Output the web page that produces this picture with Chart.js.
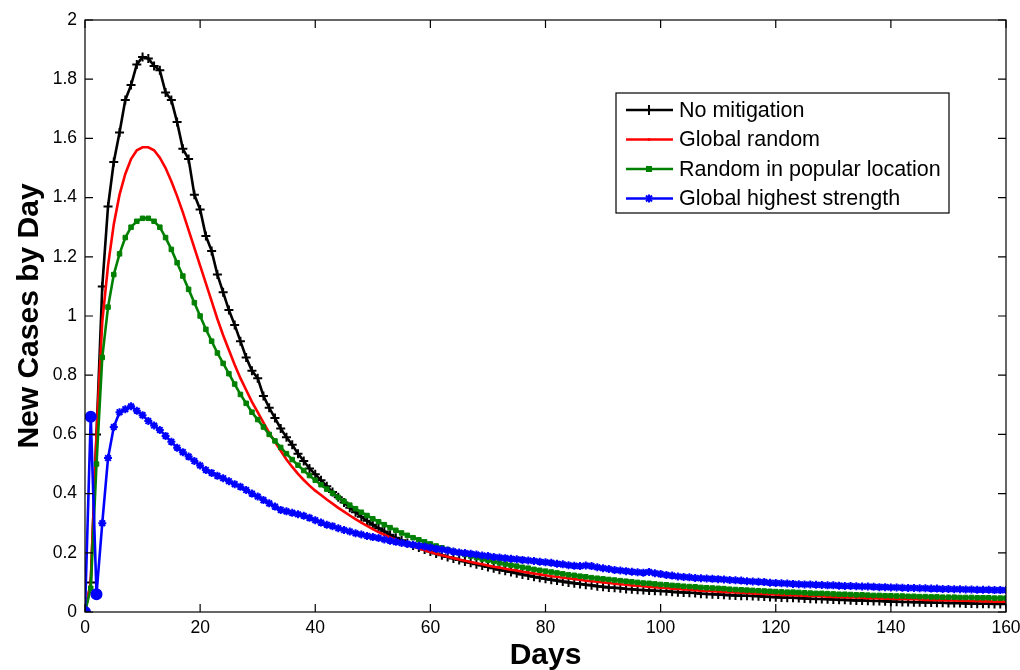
<!DOCTYPE html>
<html>
<head>
<meta charset="utf-8">
<script src="https://cdn.jsdelivr.net/npm/chart.js@4.4.1/dist/chart.umd.min.js"></script>
<style>
  html, body { margin: 0; padding: 0; background: #fff; }
  #wrap { width: 1020px; height: 670px; }
</style>
</head>
<body>
<div id="wrap"><canvas id="chart" width="1020" height="670"></canvas></div>
<script>
const days = Array.from({ length: 161 }, (_, i) => i);

const noMitigation = [
  0, 0.10, 0.60, 1.10, 1.37, 1.52, 1.62, 1.73, 1.78, 1.85,
  1.875, 1.87, 1.845, 1.83, 1.755, 1.73, 1.655, 1.565, 1.53, 1.41,
  1.36, 1.27, 1.22, 1.14, 1.08, 1.02, 0.97, 0.915, 0.86, 0.815,
  0.79, 0.73, 0.69, 0.655, 0.62, 0.59, 0.565, 0.535, 0.51, 0.485,
  0.465, 0.445, 0.425, 0.405, 0.388, 0.37, 0.352, 0.337, 0.322, 0.308,
  0.295, 0.283, 0.272, 0.261, 0.251, 0.242, 0.233, 0.225, 0.218, 0.211,
  0.204, 0.198, 0.192, 0.186, 0.181, 0.176, 0.171, 0.166, 0.161, 0.157,
  0.152, 0.148, 0.143, 0.139, 0.135, 0.131, 0.127, 0.123, 0.119, 0.116,
  0.112, 0.109, 0.106, 0.103, 0.100, 0.097, 0.095, 0.092, 0.090, 0.087,
  0.085, 0.083, 0.082, 0.080, 0.078, 0.077, 0.075, 0.074, 0.073, 0.072,
  0.071, 0.070, 0.068, 0.067, 0.066, 0.065, 0.064, 0.062, 0.061, 0.060,
  0.059, 0.058, 0.057, 0.056, 0.055, 0.055, 0.054, 0.053, 0.052, 0.051,
  0.050, 0.049, 0.048, 0.048, 0.047, 0.046, 0.045, 0.044, 0.044, 0.043,
  0.042, 0.041, 0.041, 0.040, 0.039, 0.039, 0.038, 0.037, 0.037, 0.036,
  0.035, 0.035, 0.034, 0.034, 0.033, 0.033, 0.032, 0.032, 0.031, 0.031,
  0.030, 0.030, 0.030, 0.029, 0.029, 0.028, 0.028, 0.028, 0.027, 0.027, 0.027
];

const globalRandom = [
  0, 0.10, 0.60, 0.98, 1.17, 1.31, 1.41, 1.48, 1.53, 1.56,
  1.57, 1.57, 1.56, 1.535, 1.50, 1.455, 1.405, 1.35, 1.29, 1.23,
  1.17, 1.11, 1.05, 0.99, 0.935, 0.885, 0.835, 0.79, 0.75, 0.71,
  0.675, 0.64, 0.605, 0.575, 0.545, 0.515, 0.49, 0.467, 0.446, 0.427,
  0.410, 0.395, 0.380, 0.366, 0.352, 0.339, 0.326, 0.314, 0.302, 0.291,
  0.280, 0.270, 0.261, 0.252, 0.244, 0.236, 0.229, 0.222, 0.215, 0.209,
  0.203, 0.197, 0.192, 0.187, 0.182, 0.177, 0.173, 0.169, 0.165, 0.161,
  0.157, 0.153, 0.150, 0.146, 0.143, 0.140, 0.136, 0.133, 0.130, 0.127,
  0.124, 0.121, 0.119, 0.116, 0.114, 0.111, 0.109, 0.106, 0.104, 0.102,
  0.100, 0.098, 0.096, 0.094, 0.092, 0.090, 0.089, 0.087, 0.085, 0.084,
  0.082, 0.081, 0.079, 0.078, 0.076, 0.075, 0.074, 0.072, 0.071, 0.070,
  0.069, 0.068, 0.067, 0.066, 0.065, 0.064, 0.063, 0.062, 0.061, 0.060,
  0.059, 0.058, 0.058, 0.057, 0.056, 0.055, 0.054, 0.054, 0.053, 0.052,
  0.051, 0.051, 0.050, 0.049, 0.049, 0.048, 0.047, 0.047, 0.046, 0.045,
  0.045, 0.044, 0.044, 0.043, 0.043, 0.042, 0.041, 0.041, 0.040, 0.040,
  0.039, 0.039, 0.038, 0.038, 0.037, 0.037, 0.036, 0.036, 0.035, 0.035, 0.035
];

const randomPopular = [
  0, 0.08, 0.50, 0.86, 1.03, 1.14, 1.21, 1.265, 1.30, 1.32,
  1.33, 1.33, 1.32, 1.30, 1.265, 1.225, 1.18, 1.135, 1.09, 1.045,
  1.00, 0.955, 0.915, 0.875, 0.84, 0.805, 0.77, 0.735, 0.705, 0.675,
  0.65, 0.625, 0.60, 0.578, 0.556, 0.535, 0.515, 0.496, 0.478, 0.461,
  0.445, 0.430, 0.415, 0.401, 0.387, 0.374, 0.361, 0.349, 0.337, 0.326,
  0.315, 0.305, 0.295, 0.285, 0.276, 0.267, 0.259, 0.251, 0.244, 0.237,
  0.230, 0.223, 0.217, 0.211, 0.205, 0.200, 0.194, 0.189, 0.184, 0.179,
  0.175, 0.171, 0.166, 0.162, 0.158, 0.155, 0.151, 0.148, 0.144, 0.141,
  0.138, 0.135, 0.132, 0.129, 0.126, 0.124, 0.121, 0.119, 0.116, 0.114,
  0.112, 0.110, 0.108, 0.106, 0.104, 0.102, 0.100, 0.098, 0.097, 0.095,
  0.093, 0.092, 0.090, 0.089, 0.087, 0.086, 0.085, 0.083, 0.082, 0.081,
  0.080, 0.079, 0.077, 0.076, 0.075, 0.074, 0.073, 0.072, 0.071, 0.070,
  0.069, 0.068, 0.067, 0.067, 0.066, 0.065, 0.064, 0.063, 0.063, 0.062,
  0.061, 0.060, 0.060, 0.059, 0.058, 0.058, 0.057, 0.056, 0.056, 0.055,
  0.055, 0.054, 0.054, 0.053, 0.053, 0.052, 0.052, 0.051, 0.051, 0.050,
  0.050, 0.050, 0.049, 0.049, 0.049, 0.048, 0.048, 0.048, 0.047, 0.047, 0.047
];

const highestStrength = [
  0, 0.66, 0.06, 0.30, 0.52, 0.625, 0.675, 0.685, 0.695, 0.68,
  0.665, 0.645, 0.63, 0.615, 0.595, 0.575, 0.555, 0.54, 0.525, 0.51,
  0.495, 0.48, 0.47, 0.46, 0.452, 0.442, 0.432, 0.423, 0.412, 0.40,
  0.39, 0.378, 0.367, 0.356, 0.345, 0.34, 0.335, 0.33, 0.325, 0.318,
  0.310, 0.302, 0.295, 0.290, 0.283, 0.277, 0.272, 0.266, 0.262, 0.257,
  0.253, 0.250, 0.245, 0.241, 0.237, 0.233, 0.230, 0.227, 0.224, 0.221,
  0.218, 0.214, 0.211, 0.208, 0.204, 0.201, 0.199, 0.197, 0.194, 0.191,
  0.189, 0.186, 0.184, 0.182, 0.180, 0.178, 0.176, 0.174, 0.172, 0.170,
  0.168, 0.166, 0.163, 0.161, 0.158, 0.156, 0.155, 0.157, 0.155, 0.151,
  0.148, 0.145, 0.142, 0.140, 0.138, 0.136, 0.134, 0.133, 0.135, 0.131,
  0.128, 0.125, 0.123, 0.120, 0.118, 0.117, 0.115, 0.114, 0.113, 0.112,
  0.111, 0.110, 0.108, 0.107, 0.106, 0.104, 0.103, 0.102, 0.101, 0.099,
  0.098, 0.097, 0.096, 0.095, 0.094, 0.093, 0.093, 0.092, 0.091, 0.090,
  0.090, 0.089, 0.088, 0.088, 0.087, 0.086, 0.086, 0.085, 0.084, 0.084,
  0.083, 0.083, 0.082, 0.081, 0.081, 0.080, 0.080, 0.079, 0.079, 0.078,
  0.078, 0.077, 0.077, 0.076, 0.076, 0.075, 0.075, 0.075, 0.074, 0.074, 0.074
];

const seriesNames = ["No mitigation", "Global random", "Random in popular location", "Global highest strength"];
const xTicks = [0, 20, 40, 60, 80, 100, 120, 140, 160];
const yTicks = [0, 0.2, 0.4, 0.6, 0.8, 1, 1.2, 1.4, 1.6, 1.8, 2];

const FONT = "'Liberation Sans', Arial, Helvetica, sans-serif";

function pts(values) {
  return days.map((d, i) => ({ x: d, y: values[i] }));
}

// blue series: first three points drawn as round dots, rest as stars
const blueStyle = (ctx) => (ctx.dataIndex < 3 ? "circle" : "star");
const blueRadius = (ctx) => (ctx.dataIndex < 3 ? 5 : 4);

// box + inward ticks like matlab
const boxPlugin = {
  id: "box",
  afterDraw(chart) {
    const { ctx, chartArea: a, scales } = chart;
    ctx.save();
    ctx.strokeStyle = "#000";
    ctx.lineWidth = 1.2;
    ctx.strokeRect(a.left, a.top, a.right - a.left, a.bottom - a.top);
    ctx.beginPath();
    xTicks.forEach((t) => {
      const px = scales.x.getPixelForValue(t);
      ctx.moveTo(px, a.bottom); ctx.lineTo(px, a.bottom - 8);
      ctx.moveTo(px, a.top); ctx.lineTo(px, a.top + 8);
    });
    yTicks.forEach((t) => {
      const py = scales.y.getPixelForValue(t);
      ctx.moveTo(a.left, py); ctx.lineTo(a.left + 8, py);
      ctx.moveTo(a.right, py); ctx.lineTo(a.right - 8, py);
    });
    ctx.stroke();
    ctx.restore();
  }
};

const legendPlugin = {
  id: "boxLegend",
  afterDraw(chart) {
    const { ctx, chartArea: a } = chart;
    const x0 = a.right - 390, y0 = a.top + 73, w = 333, h = 120;
    ctx.save();
    ctx.fillStyle = "#fff";
    ctx.fillRect(x0, y0, w, h);
    ctx.strokeStyle = "#000";
    ctx.lineWidth = 1.2;
    ctx.strokeRect(x0, y0, w, h);
    ctx.font = "21.5px " + FONT;
    ctx.textBaseline = "middle";
    chart.data.datasets.forEach((ds, i) => {
      const cy = y0 + 17 + i * 29.5;
      ctx.strokeStyle = ds.borderColor;
      ctx.lineWidth = 2.5;
      ctx.beginPath();
      ctx.moveTo(x0 + 10, cy);
      ctx.lineTo(x0 + 57, cy);
      ctx.stroke();
      // marker in the middle
      const mx = x0 + 33;
      ctx.lineWidth = 2;
      ctx.fillStyle = ds.borderColor;
      ctx.beginPath();
      if (i === 0) {
        ctx.moveTo(mx, cy - 5); ctx.lineTo(mx, cy + 5);
        ctx.stroke();
      } else if (i === 1) {
        ctx.arc(mx, cy, 1.5, 0, Math.PI * 2); ctx.fill();
      } else if (i === 2) {
        ctx.fillRect(mx - 3, cy - 3, 6, 6);
      } else {
        ctx.moveTo(mx - 3, cy - 3); ctx.lineTo(mx + 3, cy + 3);
        ctx.moveTo(mx + 3, cy - 3); ctx.lineTo(mx - 3, cy + 3);
        ctx.moveTo(mx, cy - 4); ctx.lineTo(mx, cy + 4);
        ctx.stroke();
      }
      ctx.fillStyle = "#000";
      ctx.fillText(ds.label, x0 + 63, cy + 1);
    });
    ctx.restore();
  }
};

new Chart(document.getElementById("chart").getContext("2d"), {
  type: "line",
  data: {
    datasets: [
      {
        label: seriesNames[0], data: pts(noMitigation), order: 4,
        borderColor: "#000000", backgroundColor: "#000000", borderWidth: 2.6,
        pointStyle: "cross", pointRadius: 4.5, pointBorderWidth: 2, pointBorderColor: "#000000"
      },
      {
        label: seriesNames[1], data: pts(globalRandom), order: 3,
        borderColor: "#ff0000", backgroundColor: "#ff0000", borderWidth: 2.6,
        pointStyle: "circle", pointRadius: 0.8, pointBorderWidth: 0
      },
      {
        label: seriesNames[2], data: pts(randomPopular), order: 2,
        borderColor: "#008000", backgroundColor: "#008000", borderWidth: 2.6,
        pointStyle: "rect", pointRadius: 3.2, pointBorderWidth: 1, pointBorderColor: "#008000"
      },
      {
        label: seriesNames[3], data: pts(highestStrength), order: 1,
        borderColor: "#0000ff", backgroundColor: "#0000ff", borderWidth: 2.6,
        pointStyle: blueStyle, pointRadius: blueRadius, pointBorderWidth: 2, pointBorderColor: "#0000ff"
      }
    ]
  },
  options: {
    responsive: false,
    animation: false,
    layout: { padding: { top: 20, right: 0, left: 0, bottom: 0 } },
    plugins: { legend: { display: false }, tooltip: { enabled: false } },
    elements: { line: { tension: 0 } },
    scales: {
      x: {
        type: "linear", min: 0, max: 160,
        afterBuildTicks: (s) => { s.ticks = xTicks.map((v) => ({ value: v })); },
        afterFit: (s) => { s.height = 58; s.paddingRight = 14; },
        ticks: { color: "#000", font: { family: FONT, size: 17.5 }, padding: 6, maxRotation: 0 },
        grid: { display: false, drawTicks: false },
        border: { display: false },
        title: {
          display: true, text: "Days", color: "#000",
          font: { family: FONT, size: 30, weight: "bold" }, padding: { top: 0, bottom: -4 }
        }
      },
      y: {
        min: 0, max: 2,
        afterBuildTicks: (s) => { s.ticks = yTicks.map((v) => ({ value: v })); },
        afterFit: (s) => { s.width = 85; },
        ticks: {
          color: "#000", font: { family: FONT, size: 17.5 }, padding: 8,
          callback: (v) => String(Number(v.toFixed(1)))
        },
        grid: { display: false, drawTicks: false },
        border: { display: false },
        title: {
          display: true, text: "New Cases by Day", color: "#000",
          font: { family: FONT, size: 30, weight: "bold" }, padding: { top: 12, bottom: 6 }
        }
      }
    }
  },
  plugins: [boxPlugin, legendPlugin]
});
</script>
</body>
</html>
